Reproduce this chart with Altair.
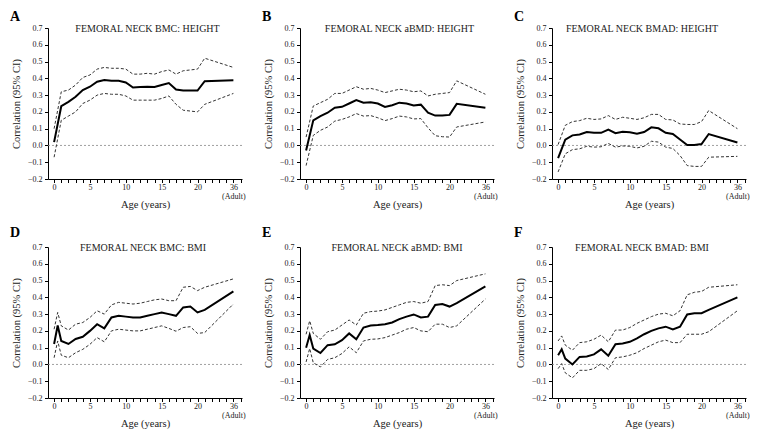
import altair as alt
import pandas as pd

FONT = "Liberation Serif"

# ---- data -------------------------------------------------------------
AGES_TOP = [0, 1, 2, 3, 4, 5, 6, 7, 8, 9, 10, 11, 12, 13, 14, 15, 16, 17, 18, 19, 20, 21, 25]
AGES_BOT = [0, 0.5, 1, 2, 3, 4, 5, 6, 7, 8, 9, 10, 11, 12, 13, 14, 15, 16, 17, 18, 19, 20, 21, 25]

X_LABEL_POS = [0, 5, 10, 15, 20, 25]
X_LABEL_TXT = ["0", "5", "10", "15", "20", "36"]
X_ADULT = "(Adult)"
Y_TICKS = [-0.2, -0.1, 0.0, 0.1, 0.2, 0.3, 0.4, 0.5, 0.6, 0.7]

LETTERS = ["A", "B", "C", "D", "E", "F"]
TITLES = [
    "FEMORAL NECK BMC: HEIGHT",
    "FEMORAL NECK aBMD: HEIGHT",
    "FEMORAL NECK BMAD: HEIGHT",
    "FEMORAL NECK BMC: BMI",
    "FEMORAL NECK aBMD: BMI",
    "FEMORAL NECK BMAD: BMI",
]

A_est = [0.02, 0.234, 0.26, 0.29, 0.33, 0.35, 0.38, 0.39, 0.385, 0.385, 0.375, 0.345,
         0.348, 0.35, 0.348, 0.36, 0.372, 0.333, 0.327, 0.327, 0.327, 0.383, 0.388]
A_hi = [0.10, 0.32, 0.33, 0.36, 0.405, 0.42, 0.455, 0.465, 0.46, 0.46, 0.455, 0.425,
        0.425, 0.43, 0.425, 0.44, 0.45, 0.425, 0.445, 0.45, 0.455, 0.52, 0.465]
A_lo = [-0.07, 0.15, 0.175, 0.20, 0.25, 0.27, 0.30, 0.31, 0.305, 0.305, 0.295, 0.27,
        0.27, 0.27, 0.27, 0.28, 0.295, 0.245, 0.21, 0.205, 0.20, 0.245, 0.31]

B_est = [-0.03, 0.15, 0.175, 0.195, 0.225, 0.23, 0.25, 0.27, 0.255, 0.258, 0.25, 0.23,
         0.24, 0.255, 0.25, 0.238, 0.243, 0.195, 0.178, 0.178, 0.182, 0.248, 0.225]
B_hi = [0.05, 0.235, 0.255, 0.275, 0.31, 0.31, 0.33, 0.35, 0.335, 0.34, 0.33, 0.315,
        0.325, 0.335, 0.33, 0.32, 0.325, 0.295, 0.305, 0.31, 0.315, 0.385, 0.305]
B_lo = [-0.12, 0.06, 0.09, 0.11, 0.145, 0.155, 0.17, 0.19, 0.175, 0.178, 0.165, 0.148,
        0.16, 0.175, 0.17, 0.158, 0.16, 0.105, 0.058, 0.052, 0.05, 0.11, 0.14]

C_est = [-0.075, 0.035, 0.06, 0.065, 0.08, 0.075, 0.075, 0.095, 0.073, 0.082, 0.078, 0.07,
         0.08, 0.108, 0.102, 0.075, 0.068, 0.035, 0.002, 0.002, 0.008, 0.068, 0.018]
C_hi = [0.005, 0.12, 0.142, 0.148, 0.162, 0.155, 0.158, 0.178, 0.155, 0.168, 0.162, 0.155,
        0.165, 0.185, 0.185, 0.155, 0.152, 0.128, 0.125, 0.125, 0.142, 0.208, 0.10]
C_lo = [-0.158, -0.05, -0.025, -0.02, -0.005, -0.01, -0.008, 0.012, -0.01, -0.003, -0.005, -0.015,
        -0.005, 0.025, 0.02, -0.01, -0.018, -0.06, -0.12, -0.125, -0.125, -0.07, -0.065]

D_est = [0.122, 0.232, 0.14, 0.122, 0.152, 0.165, 0.20, 0.24, 0.215, 0.28, 0.29, 0.285,
         0.28, 0.28, 0.29, 0.30, 0.31, 0.30, 0.29, 0.34, 0.345, 0.31, 0.325, 0.435]
D_hi = [0.21, 0.31, 0.23, 0.205, 0.24, 0.25, 0.28, 0.32, 0.30, 0.355, 0.37, 0.365,
        0.36, 0.365, 0.375, 0.385, 0.39, 0.38, 0.38, 0.46, 0.465, 0.44, 0.46, 0.51]
D_lo = [0.04, 0.14, 0.055, 0.04, 0.07, 0.09, 0.12, 0.16, 0.135, 0.20, 0.21, 0.205,
        0.20, 0.20, 0.21, 0.22, 0.23, 0.215, 0.198, 0.22, 0.225, 0.185, 0.19, 0.36]

E_est = [0.10, 0.175, 0.095, 0.068, 0.115, 0.12, 0.145, 0.185, 0.15, 0.22, 0.232, 0.235,
         0.24, 0.25, 0.27, 0.285, 0.298, 0.28, 0.285, 0.355, 0.36, 0.345, 0.365, 0.465]
E_hi = [0.18, 0.26, 0.185, 0.15, 0.195, 0.205, 0.235, 0.265, 0.235, 0.305, 0.315, 0.318,
        0.325, 0.34, 0.355, 0.37, 0.375, 0.365, 0.375, 0.47, 0.475, 0.47, 0.50, 0.54]
E_lo = [0.015, 0.095, 0.01, -0.015, 0.03, 0.04, 0.065, 0.105, 0.07, 0.14, 0.15, 0.152,
        0.16, 0.175, 0.19, 0.21, 0.22, 0.20, 0.195, 0.24, 0.24, 0.22, 0.23, 0.39]

F_est = [0.055, 0.09, 0.035, 0.0, 0.045, 0.048, 0.06, 0.09, 0.052, 0.12, 0.125, 0.135,
         0.155, 0.18, 0.20, 0.215, 0.225, 0.208, 0.225, 0.298, 0.305, 0.305, 0.325, 0.40]
F_hi = [0.14, 0.17, 0.115, 0.085, 0.13, 0.135, 0.15, 0.175, 0.135, 0.205, 0.205, 0.22,
        0.245, 0.265, 0.285, 0.30, 0.305, 0.29, 0.32, 0.415, 0.43, 0.435, 0.46, 0.475]
F_lo = [-0.025, 0.005, -0.05, -0.08, -0.035, -0.035, -0.025, 0.005, -0.03, 0.04, 0.045, 0.055,
        0.07, 0.095, 0.115, 0.135, 0.145, 0.13, 0.13, 0.18, 0.18, 0.18, 0.195, 0.32]

SERIES = [
    (AGES_TOP, A_est, A_lo, A_hi),
    (AGES_TOP, B_est, B_lo, B_hi),
    (AGES_TOP, C_est, C_lo, C_hi),
    (AGES_BOT, D_est, D_lo, D_hi),
    (AGES_BOT, E_est, E_lo, E_hi),
    (AGES_BOT, F_est, F_lo, F_hi),
]

# ---- layout -----------------------------------------------------------
W, H = 194, 151
TITLE_DX = [2.5, 2.5, -7, -2, 0, -7]
LETTER_DY = [-7.5, -7.5, -7.5, -10, -10, -10]

label_expr = "''"
for pos, txt in zip(X_LABEL_POS, X_LABEL_TXT):
    if pos == 25:
        val = f"['{txt}', '{X_ADULT}']"
    else:
        val = f"'{txt}'"
    label_expr = f"datum.value == {pos} ? {val} : ({label_expr})"

xscale = alt.Scale(domain=[-0.85, 26.2], nice=False, zero=False)
yscale = alt.Scale(domain=[-0.2, 0.7], nice=False, zero=False)

xaxis = alt.Axis(values=list(range(0, 27)), labelExpr=label_expr, title="Age (years)",
                 labelOverlap=False, labelFlush=False, titlePadding=-1, labelPadding=1,
                 labelLineHeight=9)
yaxis = alt.Axis(values=Y_TICKS, format=".1f", title="Correlation (95% CI)",
                 labelPadding=2.5, titlePadding=6)


def make_panel(i):
    ages, est, lo, hi = SERIES[i]
    df = pd.DataFrame({"age": ages, "est": est, "lo": lo, "hi": hi})
    base = alt.Chart(df)
    zero = alt.Chart(pd.DataFrame({"z": [0.0]})).mark_rule(
        color="#888", strokeWidth=0.8, strokeDash=[2, 2]
    ).encode(y=alt.Y("z:Q", scale=yscale, axis=yaxis))
    ci = base.transform_fold(["lo", "hi"], as_=["series", "value"]).mark_line(
        color="#333", strokeWidth=1, strokeDash=[3, 2]
    ).encode(
        x=alt.X("age:Q", scale=xscale, axis=xaxis),
        y=alt.Y("value:Q", scale=yscale, axis=yaxis),
        detail="series:N",
    )
    line = base.mark_line(color="black", strokeWidth=2).encode(
        x=alt.X("age:Q", scale=xscale, axis=xaxis),
        y=alt.Y("est:Q", scale=yscale, axis=yaxis),
    )
    title = alt.Chart(pd.DataFrame({"t": [TITLES[i]]})).mark_text(
        font=FONT, fontSize=10, color="#222", align="center", baseline="alphabetic"
    ).encode(text="t:N", x=alt.value(W / 2 + TITLE_DX[i]), y=alt.value(4))
    letter = alt.Chart(pd.DataFrame({"t": [LETTERS[i]]})).mark_text(
        font=FONT, fontSize=14, fontWeight="bold", color="black", align="left",
        baseline="alphabetic"
    ).encode(text="t:N", x=alt.value(-38), y=alt.value(LETTER_DY[i]))
    return alt.layer(zero, ci, line, title, letter).properties(width=W, height=H)


chart = alt.concat(
    *[make_panel(i) for i in range(6)],
    columns=3,
    spacing={"row": 68, "column": 58},
    bounds="flush",
).properties(
    padding={"left": 2, "top": 1, "right": 2, "bottom": 2},
    background="white",
).configure_view(stroke=None).configure_axis(
    grid=False,
    domainColor="black",
    tickColor="black",
    domainWidth=1,
    tickWidth=1,
    tickSize=3.5,
    labelFont=FONT,
    titleFont=FONT,
    labelFontSize=8,
    titleFontSize=10.5,
    titleFontWeight="normal",
    labelColor="#222",
    titleColor="#222",
)

chart.save("out.html", embed_options={"renderer": "svg", "actions": False})
